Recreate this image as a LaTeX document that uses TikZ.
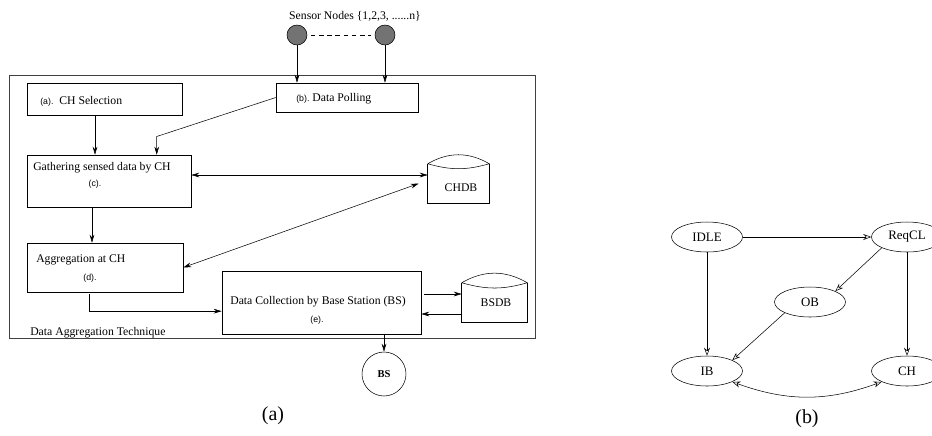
\documentclass[tikz,border=0pt]{standalone}
\usepackage{fontspec}
\setmainfont{Liberation Serif}
\setsansfont{Liberation Sans}
\usetikzlibrary{arrows.meta,shapes.geometric}

\newcommand{\steptag}[1]{{\sffamily\fontsize{7.5}{8}\selectfont #1}}

\begin{document}
\begin{tikzpicture}[x=0.03cm, y=-0.03cm, line width=0.45pt,
  every node/.style={font=\fontsize{10}{12}\selectfont},
  box/.style={draw, inner sep=0pt},
  txt/.style={inner sep=0pt, anchor=west},
  arr/.style={-{Stealth[length=2.4mm,width=1.4mm]}},
  dbl/.style={{Stealth[length=2.4mm,width=1.4mm]}-{Stealth[length=2.4mm,width=1.4mm]}},
  sensor/.style={circle, draw, fill=black!55, minimum size=0.6cm, inner sep=0pt},
  state/.style={ellipse, draw, minimum width=2.13cm, minimum height=0.9cm, inner sep=0pt, font=\fontsize{11}{13}\selectfont},
  sarr/.style={-{Stealth[open,length=2.4mm,width=1.8mm]}},
  sdbl/.style={{Stealth[open,length=2.4mm,width=1.8mm]}-{Stealth[open,length=2.4mm,width=1.8mm]}},
  caption/.style={font=\fontsize{17}{20}\selectfont}
]
\useasboundingbox (0,0) rectangle (932,435);

% (a) data aggregation technique
\node[box, draw=black!75, minimum width=15.78cm, minimum height=7.89cm] (tech) at (272,206.5) {};
\node[txt] (techlab) at (30,333) {Data Aggregation Technique};

\node (snlab) at (355,16) {Sensor Nodes \{1,2,3, ......n\}};
\node[sensor] (s1) at (297,35) {};
\node[sensor] (sn) at (385,35) {};
\draw[dashed, dash pattern=on 4pt off 3pt, shorten <=3pt, shorten >=3pt] (s1.east) -- (sn.west);

\node[box, minimum width=4.65cm, minimum height=0.96cm] (sel) at (104.5,99) {};
\node[txt] (sellab) at (40,101) {\steptag{(a).}\ \ CH Selection};

\node[box, minimum width=4.26cm, minimum height=0.87cm] (poll) at (347,97.5) {};
\node[txt] (polllab) at (296,99) {\steptag{(b).}\ Data Polling};

\node[box, minimum width=4.92cm, minimum height=1.56cm] (gath) at (109,181) {};
\node[txt] (gathlab) at (33,168) {Gathering sensed data by CH};
\node (gathtag) at (95,184) {\steptag{(c).}};

\node[box, minimum width=4.68cm, minimum height=1.47cm] (agg) at (105,267.5) {};
\node[txt] (agglab) at (36,260) {Aggregation at CH};
\node (aggtag) at (90,278) {\steptag{(d).}};

\node[box, minimum width=5.97cm, minimum height=1.89cm] (dc) at (321.5,302.5) {};
\node (dclab) at (318,302) {Data Collection by Base Station (BS)};
\node (dctag) at (317,320) {\steptag{(e).}};

\node[minimum width=1.83cm, minimum height=1.17cm, inner sep=0pt] (chdb) at (458.5,183.5) {};
\node (chdblab) at (461,188) {CHDB};
\node[minimum width=1.95cm, minimum height=1.17cm, inner sep=0pt] (bsdb) at (494.5,302.5) {};
\node (bsdblab) at (496,303) {BSDB};
\foreach \db in {chdb,bsdb} {
  \draw (\db.north west) -- (\db.south west) -- (\db.south east) -- (\db.north east);
  \draw (\db.north west) to[bend left=30] (\db.north east) to[bend left=16] (\db.north west);
}

\node[circle, draw, minimum size=1.32cm, inner sep=0pt, font=\fontsize{9}{10}\selectfont\bfseries] (bs) at (384,374) {BS};

\draw[arr] (s1) -- (s1 |- poll.north);
\draw[arr] (sn) -- (sn |- poll.north);
\draw[arr] ([xshift=-0.285cm]sel.south) -- ([xshift=-0.285cm]sel.south |- gath.north);
\draw[arr] (poll.west) -- ++(-119,39) coordinate (pbend) -- (pbend |- gath.north);
\draw[dbl] ([yshift=0.18cm]gath.east) -- ([yshift=0.18cm]gath.east -| chdb.west);
\draw[arr] ([xshift=-0.51cm]gath.south) -- ([xshift=-0.51cm]gath.south |- agg.north);
\draw[dbl] (agg.east) -- ([xshift=-0.27cm]chdb.west);
\draw[arr] ([xshift=-0.48cm,yshift=-0.06cm]agg.south) |- ([yshift=-0.26cm]dc.west);
\draw[arr] ([xshift=0.09cm,yshift=0.255cm]dc.east) -- ([yshift=0.255cm]dc.east -| bsdb.west);
\draw[arr] ([yshift=-0.345cm]bsdb.west) -- ([yshift=-0.345cm]bsdb.west -| dc.east);
\draw[arr] (bs.north |- dc.south) -- (bs.north);

\node[caption] (capa) at (273,416) {(a)};

% (b) states of a node
\node[state] (idle) at (707,237) {IDLE};
\node[state] (reqcl) at (907,237) {ReqCL};
\node[state] (ob) at (810,302) {OB};
\node[state] (ib) at (707,371) {IB};
\node[state] (ch) at (907,371) {CH};

\draw[sarr] (idle) -- (reqcl);
\draw[sarr] (idle) -- (ib);
\draw[sarr] (reqcl.south west) -- (ob.north east);
\draw[sarr] (ob.south west) -- (ib.north east);
\draw[sarr] (reqcl) -- (ch);
\draw[sdbl] (ib.south east) to[bend right=20] (ch.south west);

\node[caption] (capb) at (807,419) {(b)};
\end{tikzpicture}
\end{document}
